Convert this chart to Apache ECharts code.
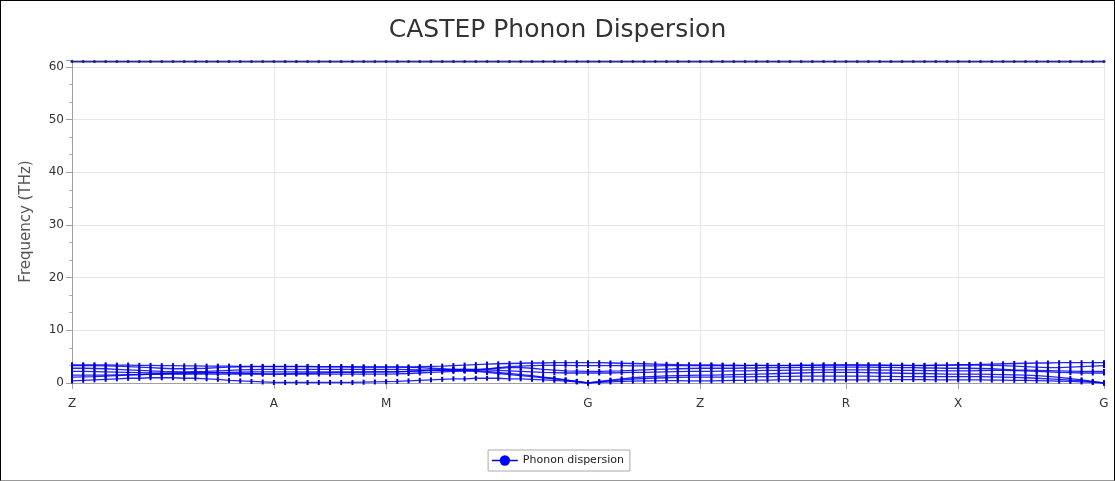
<!DOCTYPE html>
<html>
<head>
<meta charset="utf-8">
<script src="https://cdn.jsdelivr.net/npm/echarts@6/dist/echarts.min.js"></script>
<style>
html,body{margin:0;padding:0;background:#fff;}
#wrap{position:relative;width:1115px;height:481px;}
#chart{position:absolute;left:0;top:0;width:1115px;height:481px;}
#frame{position:absolute;left:0;top:0;width:1115px;height:481px;box-sizing:border-box;border:1px solid #000;border-bottom-color:#999;pointer-events:none;}
</style>
</head>
<body>
<div id="wrap"><div id="chart"></div><div id="frame"></div></div>
<script>
// High-symmetry points (labels and their k-point index along the path)
const kLabels = ['Z', 'A', 'M', 'G', 'Z', 'R', 'X', 'G'];
const kIndex = [0, 18, 28, 46, 56, 69, 79, 92];
const yTicks = [0, 10, 20, 30, 40, 50, 60];

// Phonon bands (THz), one value per k-point (93 points)
const band1 = [
  0.4,0.5,0.6,0.7,0.8,0.9,0.9,1.0,1.0,1.0,0.9,0.9,0.8,0.7,0.5,0.4,0.3,0.2,0.1,
  0.1,0.1,0.1,0.1,0.1,0.1,0.1,0.15,0.2,0.25,
  0.3,0.4,0.5,0.6,0.7,0.8,0.8,0.9,0.9,0.9,0.8,0.8,0.7,0.6,0.5,0.35,0.2,0,
  0.1,0.2,0.3,0.35,0.4,0.4,0.45,0.45,0.4,0.4,
  0.4,0.45,0.5,0.5,0.55,0.55,0.6,0.6,0.6,0.6,0.6,0.6,0.6,
  0.6,0.6,0.6,0.65,0.65,0.65,0.65,0.6,0.6,0.6,
  0.6,0.6,0.55,0.55,0.5,0.5,0.45,0.4,0.35,0.3,0.2,0.1,0
];
const band2 = [
  1.1,1.15,1.2,1.3,1.4,1.5,1.6,1.7,1.8,1.9,1.95,2.0,2.0,1.95,1.9,1.85,1.8,1.75,1.7,
  1.7,1.7,1.7,1.7,1.7,1.7,1.7,1.7,1.7,1.7,
  1.75,1.8,1.9,2.0,2.1,2.2,2.3,2.3,2.2,2.0,1.8,1.6,1.4,1.1,0.9,0.6,0.3,0,
  0.2,0.4,0.6,0.75,0.85,0.95,1.0,1.05,1.1,1.1,
  1.1,1.1,1.15,1.15,1.2,1.2,1.25,1.25,1.3,1.3,1.3,1.3,1.3,
  1.3,1.3,1.25,1.25,1.2,1.2,1.2,1.2,1.2,1.2,
  1.2,1.2,1.15,1.1,1.05,1.0,0.9,0.8,0.7,0.55,0.4,0.2,0
];
const band3 = [
  1.5,1.5,1.5,1.5,1.55,1.6,1.6,1.65,1.65,1.7,1.7,1.7,1.7,1.7,1.7,1.7,1.7,1.7,1.7,
  1.75,1.8,1.85,1.9,1.95,2.0,2.0,2.05,2.1,2.1,
  2.1,2.2,2.3,2.4,2.5,2.5,2.4,2.2,2.0,1.8,1.6,1.4,1.2,1.0,0.8,0.55,0.3,0,
  0.3,0.55,0.8,1.0,1.15,1.25,1.35,1.4,1.45,1.5,
  1.5,1.55,1.6,1.65,1.7,1.75,1.8,1.85,1.9,1.95,2.0,2.0,2.0,
  2.0,1.95,1.9,1.9,1.85,1.8,1.8,1.75,1.7,1.7,
  1.7,1.7,1.65,1.6,1.55,1.5,1.4,1.25,1.05,0.85,0.6,0.3,0
];
const band4 = [
  2.2,2.2,2.15,2.1,2.05,2.0,1.95,1.9,1.85,1.8,1.8,1.85,1.9,1.95,2.0,2.05,2.1,2.1,2.1,
  2.1,2.1,2.1,2.1,2.1,2.1,2.1,2.1,2.1,2.1,
  2.15,2.2,2.3,2.4,2.5,2.6,2.65,2.6,2.5,2.4,2.3,2.2,2.1,2.0,1.95,1.9,1.9,1.9,
  1.9,1.9,1.95,2.0,2.0,2.05,2.1,2.15,2.2,2.2,
  2.2,2.25,2.3,2.3,2.35,2.4,2.4,2.45,2.45,2.5,2.5,2.5,2.5,
  2.5,2.5,2.45,2.45,2.4,2.4,2.35,2.35,2.3,2.3,
  2.3,2.35,2.4,2.4,2.35,2.3,2.2,2.1,2.0,1.95,1.9,1.9,1.9
];
const band5 = [
  2.8,2.8,2.75,2.7,2.6,2.5,2.4,2.3,2.2,2.15,2.1,2.15,2.2,2.3,2.4,2.5,2.55,2.6,2.6,
  2.6,2.6,2.6,2.6,2.6,2.6,2.6,2.6,2.6,2.6,
  2.6,2.55,2.5,2.45,2.4,2.35,2.3,2.4,2.6,2.8,2.9,2.9,2.8,2.6,2.45,2.3,2.25,2.2,
  2.2,2.25,2.3,2.4,2.5,2.6,2.65,2.7,2.75,2.8,
  2.8,2.8,2.8,2.85,2.85,2.9,2.9,2.9,2.95,2.95,3.0,3.0,3.0,
  3.0,3.0,2.95,2.95,2.9,2.9,2.85,2.85,2.8,2.8,
  2.8,2.75,2.7,2.6,2.5,2.45,2.4,2.35,2.3,2.25,2.2,2.2,2.2
];
const band6 = [
  3.3,3.3,3.3,3.25,3.2,3.1,3.0,2.9,2.8,2.7,2.7,2.75,2.8,2.9,3.0,3.05,3.1,3.1,3.1,
  3.1,3.1,3.1,3.05,3.05,3.05,3.0,3.0,3.0,3.0,
  3.0,2.95,2.9,2.8,2.7,2.6,2.5,2.55,2.7,2.9,3.1,3.2,3.3,3.35,3.35,3.35,3.3,3.3,
  3.3,3.3,3.3,3.25,3.25,3.25,3.3,3.3,3.3,3.3,
  3.3,3.3,3.3,3.3,3.35,3.35,3.35,3.35,3.4,3.4,3.4,3.4,3.4,
  3.4,3.4,3.4,3.35,3.35,3.35,3.35,3.4,3.4,3.4,
  3.4,3.4,3.35,3.3,3.2,3.1,3.0,2.9,2.9,3.0,3.1,3.2,3.3
];
const band7 = [
  3.45,3.45,3.45,3.45,3.4,3.4,3.35,3.35,3.3,3.3,3.25,3.25,3.2,3.2,3.2,3.15,3.15,3.15,3.15,
  3.15,3.15,3.15,3.1,3.1,3.1,3.1,3.05,3.05,3.05,
  3.05,3.05,3.1,3.15,3.2,3.3,3.4,3.5,3.6,3.65,3.7,3.75,3.8,3.8,3.85,3.85,3.85,3.85,
  3.85,3.8,3.75,3.7,3.65,3.6,3.55,3.5,3.45,3.45,
  3.45,3.4,3.4,3.35,3.35,3.3,3.3,3.3,3.35,3.35,3.4,3.45,3.45,
  3.45,3.4,3.4,3.35,3.35,3.3,3.3,3.35,3.4,3.5,
  3.5,3.55,3.6,3.65,3.7,3.75,3.8,3.8,3.85,3.85,3.85,3.85,3.85
];
const band8 = [
  61.0,61.0,61.0,61.0,61.0,61.0,61.0,61.0,61.0,61.0,61.0,61.0,61.0,61.0,61.0,61.0,61.0,61.0,61.0,
  61.0,61.0,61.0,61.0,61.0,61.0,61.0,61.0,61.0,61.0,
  61.0,61.0,61.0,61.0,61.0,61.0,61.0,61.0,61.0,61.0,61.0,61.0,61.0,61.0,61.0,61.0,61.0,61.0,
  61.0,61.0,61.0,61.0,61.0,61.0,61.0,61.0,61.0,61.0,
  61.0,61.0,61.0,61.0,61.0,61.0,61.0,61.0,61.0,61.0,61.0,61.0,61.0,
  61.0,61.0,61.0,61.0,61.0,61.0,61.0,61.0,61.0,61.0,
  61.0,61.0,61.0,61.0,61.0,61.0,61.0,61.0,61.0,61.0,61.0,61.0,61.0
];

const seriesName = 'Phonon dispersion';
// top band first so the legend takes its circle symbol
const bands = [band8, band1, band2, band3, band4, band5, band6, band7];

// category table: one slot per k-point, labelled at high-symmetry points
const categories = band1.map(function (_, i) {
  const p = kIndex.indexOf(i);
  return p >= 0 ? kLabels[p] + '\u200b'.repeat(p) : '';
});
function isSym(index) { return kIndex.indexOf(index) >= 0; }

const FONT = 'DejaVu Sans';
const chart = echarts.init(document.getElementById('chart'), null, {renderer: 'canvas'});
chart.setOption({
  animation: false,
  backgroundColor: '#ffffff',
  title: {
    text: 'CASTEP Phonon Dispersion',
    left: 'center', top: 13,
    textStyle: {fontFamily: FONT, fontSize: 25, fontWeight: 'normal', color: '#333333'}
  },
  legend: {
    data: [{name: seriesName, itemStyle: {color: '#0000ff'}, lineStyle: {color: '#0000cc', width: 1.5}}],
    bottom: 10, left: 'center',
    borderColor: '#aaaaaa', borderWidth: 1, borderRadius: 0,
    padding: [5, 6, 5, 3],
    itemWidth: 26, itemHeight: 13, itemGap: 5,
    textStyle: {fontFamily: FONT, fontSize: 11, color: '#222222'}
  },
  grid: {left: 72, right: 11, top: 60, bottom: 98, containLabel: false},
  xAxis: {
    type: 'category',
    data: categories,
    boundaryGap: false,
    axisLine: {lineStyle: {color: '#a0a0a0', width: 1}},
    axisTick: {show: true, length: 6, interval: function (i) { return isSym(i); }, lineStyle: {color: '#a0a0a0'}},
    axisLabel: {
      interval: function (i) { return isSym(i); },
      fontFamily: FONT, fontSize: 12, color: '#333333', margin: 15,
      formatter: function (v) { return v.replace(/\u200b/g, ''); }
    },
    splitLine: {show: true, interval: function (i) { return isSym(i) && i !== 0; }, lineStyle: {color: '#e6e6e6', width: 1}}
  },
  yAxis: {
    type: 'value',
    min: 0, max: 61.3, interval: 10,
    name: 'Frequency (THz)',
    nameLocation: 'middle', nameGap: 38,
    nameTextStyle: {fontFamily: FONT, fontSize: 15, color: '#555555'},
    axisLine: {show: true, lineStyle: {color: '#a0a0a0', width: 1}},
    axisTick: {show: true, length: 6, lineStyle: {color: '#a0a0a0'}},
    minorTick: {show: true, splitNumber: 3, length: 3, lineStyle: {color: '#b0b0b0'}},
    axisLabel: {
      fontFamily: FONT, fontSize: 12, color: '#333333', margin: 8,
      formatter: function (v) { return yTicks.indexOf(v) >= 0 ? String(v) : ''; }
    },
    splitLine: {show: true, lineStyle: {color: '#e6e6e6', width: 1}}
  },
  series: bands.map(function (b, k) {
    const top = (k === 0);
    return {
      name: seriesName,
      type: 'line',
      data: b,
      symbol: top ? 'circle' : 'rect',
      symbolSize: top ? 3 : [2, 5],
      showSymbol: true,
      lineStyle: {color: top ? '#2a2a9a' : 'rgba(0,0,240,0.85)', width: top ? 1.6 : 1.3},
      itemStyle: {color: top ? '#20208a' : '#0000d8'},
      emphasis: {disabled: true}
    };
  })
});
</script>
</body>
</html>
